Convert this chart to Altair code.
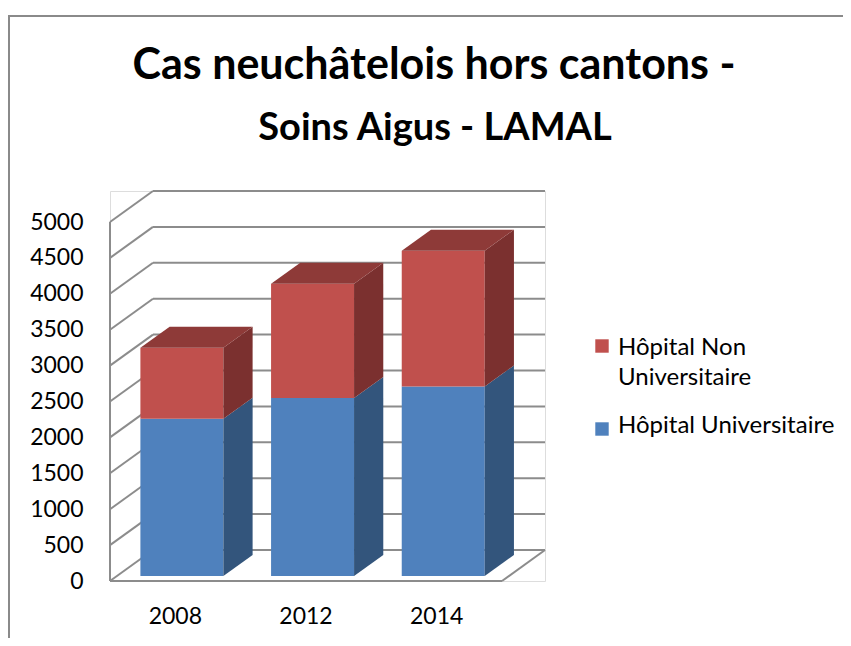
import altair as alt
import pandas as pd

# ---------------- data ----------------
YEARS = ["2008", "2012", "2014"]
SERIES = ["Hôpital Universitaire", "Hôpital Non Universitaire"]
UNIV = [2190, 2480, 2640]
NON_UNIV = [990, 1590, 1890]
Y_TICKS = [0, 500, 1000, 1500, 2000, 2500, 3000, 3500, 4000, 4500, 5000]
TITLE_1 = "Cas neuchâtelois hors cantons -"
TITLE_2 = "Soins Aigus - LAMAL"

# ---------------- style / 3D projection ----------------
FONT = "Lato"
DX = 0.329      # depth shift in slot units
DY = 432        # depth shift in value units
Z0, Z1 = 0.16, 0.84   # bar front/back depth
BL, BR = 0.18, 0.815  # bar left/right within slot
YMAX = Y_TICKS[-1] + DY
XMAX = len(YEARS) + DX
W, H = 435, 390
GRID = "#8c8c8c"
FRONT = {"Hôpital Universitaire": "#4F81BD", "Hôpital Non Universitaire": "#C0504D"}
SIDE = {"Hôpital Universitaire": "#33557C", "Hôpital Non Universitaire": "#7B302F"}
TOP = {"Hôpital Universitaire": "#3F6797", "Hôpital Non Universitaire": "#8E3A38"}

xs = alt.Scale(domain=[0, XMAX], nice=False, zero=False)
ys = alt.Scale(domain=[0, YMAX], nice=False, zero=False)
yaxis = alt.Axis(values=Y_TICKS, title=None, domain=False, ticks=False, grid=False, format="d",
                 labelFontSize=23, labelColor="black", labelPadding=27, labelFont=FONT)

# ---------------- geometry from data ----------------
front_rows, side_rows, top_rows = [], [], []
for i, yr in enumerate(YEARS):
    base = 0
    vals = [("Hôpital Universitaire", UNIV[i]), ("Hôpital Non Universitaire", NON_UNIV[i])]
    for k, (s, v) in enumerate(vals):
        top = base + v
        front_rows.append(dict(series=s, x=i + BL + Z0 * DX, x2=i + BR + Z0 * DX,
                               y=base + Z0 * DY, y2=top + Z0 * DY))
        gid = f"{yr}-{s}"
        for z in (Z0, Z1):
            side_rows.append(dict(series=s, g=gid, x=i + BR + z * DX,
                                  lo=base + z * DY, hi=top + z * DY))
        if k == len(vals) - 1:
            for z in (Z0, Z1):
                top_rows.append(dict(series=s, g=gid, y=top + z * DY,
                                     xlo=i + BL + z * DX, xhi=i + BR + z * DX))
        base = top

seg = []
n = len(YEARS)
for v in Y_TICKS:
    seg.append(dict(x=DX, y=v + DY, x2=n + DX, y2=v + DY))
    seg.append(dict(x=0, y=v, x2=DX, y2=v + DY))
seg.append(dict(x=0, y=0, x2=0, y2=Y_TICKS[-1]))
seg.append(dict(x=0, y=0, x2=n, y2=0))
seg.append(dict(x=n, y=0, x2=n + DX, y2=DY))

grid = alt.Chart(pd.DataFrame(seg)).mark_rule(color=GRID, strokeWidth=2).encode(
    x=alt.X("x:Q", scale=xs, axis=None), x2="x2:Q",
    y=alt.Y("y:Q", scale=ys, axis=yaxis), y2="y2:Q")

front = alt.Chart(pd.DataFrame(front_rows)).mark_rect().encode(
    x=alt.X("x:Q", scale=xs, axis=None), x2="x2:Q",
    y=alt.Y("y:Q", scale=ys, axis=yaxis), y2="y2:Q",
    color=alt.Color("series:N", legend=None,
                    scale=alt.Scale(domain=SERIES, range=[FRONT[s] for s in SERIES])))

side = alt.Chart(pd.DataFrame(side_rows)).mark_area(interpolate="linear").encode(
    x=alt.X("x:Q", scale=xs, axis=None),
    y=alt.Y("lo:Q", scale=ys, axis=yaxis), y2="hi:Q",
    detail="g:N",
    color=alt.Color("series:N", legend=None,
                    scale=alt.Scale(domain=SERIES, range=[SIDE[s] for s in SERIES])))

topf = alt.Chart(pd.DataFrame(top_rows)).mark_area(orient="horizontal", interpolate="linear").encode(
    y=alt.Y("y:Q", scale=ys, axis=yaxis),
    x=alt.X("xlo:Q", scale=xs, axis=None), x2="xhi:Q",
    detail="g:N",
    color=alt.Color("series:N", legend=None,
                    scale=alt.Scale(domain=SERIES, range=[TOP[s] for s in SERIES])))

xlab = alt.Chart(pd.DataFrame({"year": YEARS, "pos": [i + 0.5 for i in range(n)]})).mark_text(
    font=FONT, fontSize=23, color="black", baseline="alphabetic", align="center").encode(
    x=alt.X("pos:Q", scale=xs, axis=None), y=alt.value(433), text="year:N")

# titles
t1 = alt.Chart(pd.DataFrame({"t": [TITLE_1]})).mark_text(
    font=FONT, fontSize=43, fontWeight="bold", color="black", align="center", baseline="alphabetic").encode(
    x=alt.value(324), y=alt.value(-112), text="t:N")
t2 = alt.Chart(pd.DataFrame({"t": [TITLE_2]})).mark_text(
    font=FONT, fontSize=38, fontWeight="bold", color="black", align="center", baseline="alphabetic").encode(
    x=alt.value(325), y=alt.value(-51), text="t:N")

# legend (manual, two rows)
leg_layers = []
leg_rows = [("Hôpital Non Universitaire", ["Hôpital Non", "Universitaire"], 155, 164),
            ("Hôpital Universitaire", ["Hôpital Universitaire"], 238, 242)]
for s, lines, ysq, ytx in leg_rows:
    d = pd.DataFrame({"series": [s], "lines": [lines]})
    leg_layers.append(alt.Chart(d).mark_square(size=180, opacity=1, color=FRONT[s]).encode(
        x=alt.value(492), y=alt.value(ysq)))
    leg_layers.append(alt.Chart(d).mark_text(
        font=FONT, fontSize=24, color="black", align="left", baseline="alphabetic", lineHeight=30).encode(
        x=alt.value(508), y=alt.value(ytx), text="lines"))

# outer frame
fdf = pd.DataFrame({"a": [0]})
frame_v = alt.Chart(fdf).mark_rule(color="#8a8a8a", strokeWidth=2).encode(
    x=alt.value(-101), y=alt.value(-175), y2=alt.value(H + 60))
frame_h = alt.Chart(fdf).mark_rule(color="#8a8a8a", strokeWidth=2).encode(
    x=alt.value(-102), x2=alt.value(W + 320), y=alt.value(-175))

chart = alt.layer(frame_v, frame_h, grid, front, side, topf, xlab, t1, t2, *leg_layers).resolve_scale(
    color="independent").properties(
    width=W, height=H,
    autosize=alt.AutoSizeParams(type="none"),
    padding={"left": 102, "top": 183, "right": 298, "bottom": 57},
).configure_view(stroke=None).configure(font=FONT, background="white")

chart.save("out.html", embed_options={"renderer": "svg", "actions": False})
